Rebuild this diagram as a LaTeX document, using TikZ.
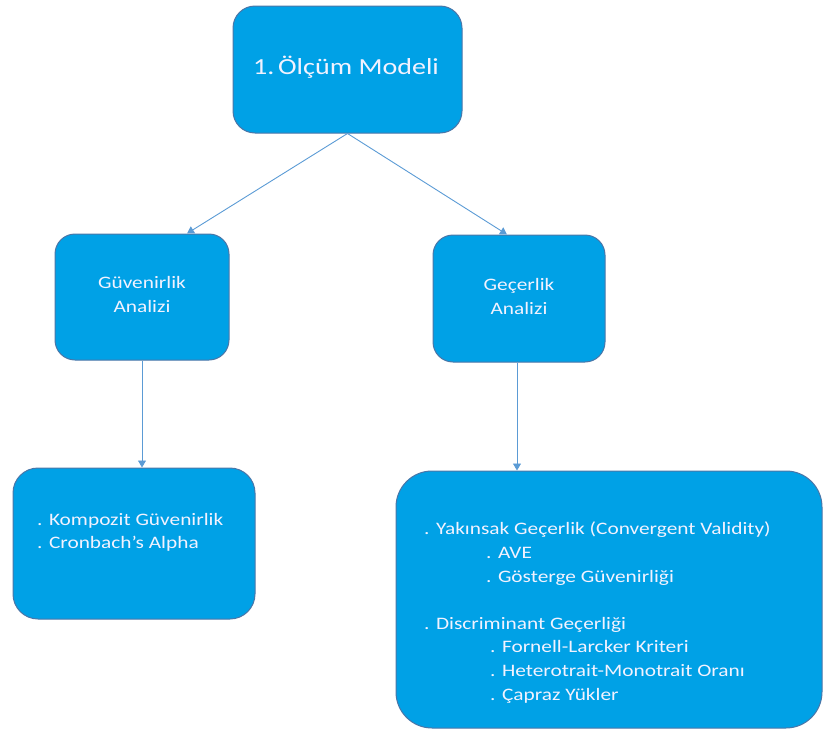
\documentclass[tikz,border=0pt]{standalone}
\usepackage{fontspec}
\setmainfont[FakeStretch=1.22]{Carlito}
\usetikzlibrary{arrows.meta,calc}
\definecolor{boxfill}{HTML}{00A1E6}
\definecolor{boxline}{HTML}{4A76A8}
\definecolor{arrowc}{HTML}{5B9BD5}
\definecolor{txt}{HTML}{F2F2FF}
\tikzset{
  box/.style={draw=boxline, line width=1pt, fill=boxfill, rounded corners=#1, inner sep=0pt},
  box/.default=20pt,
  conn/.style={draw=arrowc, line width=0.9pt, -{Triangle[width=8pt,length=7pt]}},
  lbl/.style={text=txt, inner sep=0pt, align=left}
}
\begin{document}
\begin{tikzpicture}[x=1pt,y=-1pt]
\useasboundingbox (0,0) rectangle (823,731);
% boxes
\node[box=22pt, minimum width=229pt, minimum height=127pt] (top) at (347.5,69.5) {};
\node[box=20pt, minimum width=174pt, minimum height=126pt] (g) at (142,297) {};
\node[box=20pt, minimum width=172pt, minimum height=127pt] (c) at (519,298.5) {};
\node[box=25pt, minimum width=242pt, minimum height=151pt] (bl) at (134,543.5) {};
\node[box=36pt, minimum width=426pt, minimum height=257pt] (br) at (609,599.5) {};
% texts
\node[lbl, anchor=base, font=\fontsize{23}{26}\selectfont] (ttop) at (346,74) {1.\,Ölçüm Modeli};
\node[lbl, align=center, anchor=base, font=\fontsize{17.5}{24}\selectfont] (tg) at (142,312) {Güvenirlik\\Analizi};
\node[lbl, align=center, anchor=base, font=\fontsize{17.5}{24}\selectfont] (tc) at (519,314) {Geçerlik\\Analizi};
\node[lbl, anchor=base west, font=\fontsize{17.5}{22.5}\selectfont] (tbl) at (37,548) {. Kompozit Güvenirlik\\. Cronbach’s Alpha};
\node[lbl, anchor=base west, font=\fontsize{17.5}{23.6}\selectfont] (tbr) at (424,700) {%
. Yakınsak Geçerlik (Convergent Validity)\\
\hspace{62pt}. AVE\\
\hspace{62pt}. Gösterge Güvenirliği\\[23.6pt]
. Discriminant Geçerliği\\
\hspace{66pt}. Fornell-Larcker Kriteri\\
\hspace{66pt}. Heterotrait-Monotrait Oranı\\
\hspace{66pt}. Çapraz Yükler};
% connectors
\draw[conn] (top.south) -- ([xshift=45pt]g.north);
\draw[conn] (top.south) -- ([xshift=-12pt]c.north);
\draw[conn] (g.south) -- (g.south |- bl.north);
\draw[conn] ([xshift=-2pt]c.south) -- ([xshift=-2pt]c.south |- br.north);
\end{tikzpicture}
\end{document}
